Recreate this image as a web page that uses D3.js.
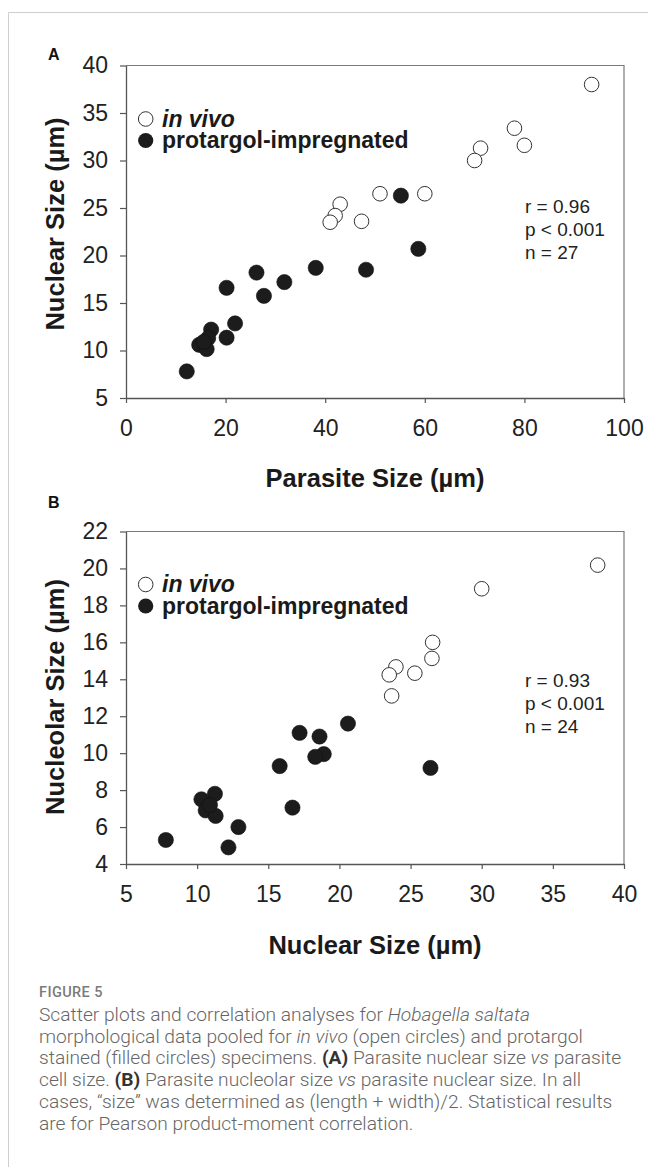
<!DOCTYPE html>
<html>
<head>
<meta charset="utf-8">
<script src="https://cdn.jsdelivr.net/npm/d3@7"></script>
<style>
  body { margin: 0; background: #fff; }
  svg { display: block; }
</style>
</head>
<body>
<svg id="fig" width="648" height="1167"></svg>
<script>
// Panel A: nuclear size vs parasite size
var inVivoA_x = [93.5, 78, 80, 71.2, 70, 51, 60, 43, 42, 41, 47.3];
var inVivoA_y = [38.0, 33.4, 31.6, 31.3, 30.0, 26.5, 26.5, 25.4, 24.2, 23.5, 23.6];
var protA_x = [55.2, 58.7, 48.2, 38.1, 26.2, 31.8, 20.2, 27.7, 21.9, 17.1, 16.5, 20.2, 14.7, 16.2, 15.6, 12.2];
var protA_y = [26.3, 20.7, 18.5, 18.7, 18.2, 17.2, 16.6, 15.75, 12.85, 12.2, 11.3, 11.35, 10.6, 10.15, 10.9, 7.8];
var ticksA_x = [0, 20, 40, 60, 80, 100];
var ticksA_y = [5, 10, 15, 20, 25, 30, 35, 40];
var statsA = ["r = 0.96", "p < 0.001", "n = 27"];

// Panel B: nucleolar size vs nuclear size
var inVivoB_x = [38.15, 30.0, 26.55, 26.5, 23.97, 23.5, 25.3, 23.67];
var inVivoB_y = [20.18, 18.9, 16.0, 15.13, 14.67, 14.24, 14.33, 13.1];
var protB_x = [26.4, 20.6, 17.2, 18.6, 18.9, 18.3, 15.8, 16.7, 11.25, 10.3, 10.6, 11.3, 12.9, 7.8, 12.2, 10.9];
var protB_y = [9.2, 11.6, 11.1, 10.9, 9.95, 9.8, 9.3, 7.05, 7.8, 7.5, 6.9, 6.6, 6.0, 5.3, 4.9, 7.2];
var ticksB_x = [5, 10, 15, 20, 25, 30, 35, 40];
var ticksB_y = [4, 6, 8, 10, 12, 14, 16, 18, 20, 22];
var statsB = ["r = 0.93", "p < 0.001", "n = 24"];

var legendLabels = ["in vivo", "protargol-impregnated"];

var captionLines = [
  [["Scatter plots and correlation analyses for ", ""], ["Hobagella saltata", "i"]],
  [["morphological data pooled for ", ""], ["in vivo", "i"], [" (open circles) and protargol", ""]],
  [["stained (filled circles) specimens. ", ""], ["(A)", "b"], [" Parasite nuclear size ", ""], ["vs", "i"], [" parasite", ""]],
  [["cell size. ", ""], ["(B)", "b"], [" Parasite nucleolar size ", ""], ["vs", "i"], [" parasite nuclear size. In all", ""]],
  [["cases, \u201Csize\u201D was determined as (length + width)/2. Statistical results", ""]],
  [["are for Pearson product-moment correlation.", ""]]
];

var FONT = "'Liberation Sans', Arial, Helvetica, sans-serif";
var svg = d3.select("#fig");

// page border
svg.append("path")
  .attr("d", "M8.5,1167 V12.5 H648")
  .attr("fill", "none")
  .attr("stroke", "#cfcfcf")
  .attr("stroke-width", 1);

function panel(o) {
  var x = d3.scaleLinear().domain(o.xDomain).range([126, 624]);
  var y = d3.scaleLinear().domain(o.yDomain).range([o.bottom, o.top]);
  var g = svg.append("g");

  // frame (top and right)
  g.append("path")
    .attr("d", "M126," + o.top + " H624 V" + o.bottom)
    .attr("fill", "none")
    .attr("stroke", "#7a7a7a")
    .attr("stroke-width", 1.2);

  var ax = g.append("g")
    .attr("transform", "translate(0," + o.bottom + ")")
    .call(d3.axisBottom(x).tickValues(o.xTicks).tickSize(5).tickSizeOuter(0).tickPadding(17));
  var ay = g.append("g")
    .attr("transform", "translate(126,0)")
    .call(d3.axisLeft(y).tickValues(o.yTicks).tickSize(6).tickSizeOuter(0).tickPadding(12));

  [ax, ay].forEach(function(a) {
    a.select(".domain").attr("stroke", "#555").attr("stroke-width", 1.3);
    a.selectAll(".tick line").attr("stroke", "#555").attr("stroke-width", 1.2);
    a.selectAll(".tick text")
      .attr("font-family", FONT)
      .attr("font-size", 23)
      .attr("fill", "#222");
  });

  // axis titles
  g.append("text")
    .attr("x", 375).attr("y", o.xTitleY)
    .attr("text-anchor", "middle")
    .attr("font-family", FONT).attr("font-size", 25.5).attr("font-weight", "bold")
    .attr("fill", "#1a1a1a")
    .text(o.xTitle);
  g.append("text")
    .attr("transform", "translate(64," + o.yTitleY + ") rotate(-90)")
    .attr("text-anchor", "middle")
    .attr("font-family", FONT).attr("font-size", 25.5).attr("font-weight", "bold")
    .attr("fill", "#1a1a1a")
    .text(o.yTitle);

  // panel letter
  g.append("text")
    .attr("x", 48).attr("y", o.letterY)
    .attr("font-family", FONT).attr("font-size", 16).attr("font-weight", "bold")
    .attr("fill", "#111")
    .text(o.letter);

  // points
  g.selectAll(".open")
    .data(d3.range(o.ox.length))
    .enter().append("circle")
    .attr("cx", function(i) { return x(o.ox[i]); })
    .attr("cy", function(i) { return y(o.oy[i]); })
    .attr("r", 7.3)
    .attr("fill", "#fff")
    .attr("stroke", "#333")
    .attr("stroke-width", 1);
  g.selectAll(".filled")
    .data(d3.range(o.fx.length))
    .enter().append("circle")
    .attr("cx", function(i) { return x(o.fx[i]); })
    .attr("cy", function(i) { return y(o.fy[i]); })
    .attr("r", 7.6)
    .attr("fill", "#1c1c1c")
    .attr("stroke", "#111")
    .attr("stroke-width", 0.6);

  // legend
  var lg = g.append("g").attr("transform", "translate(0," + o.legendY + ")");
  lg.append("circle").attr("cx", 145.7).attr("cy", 0).attr("r", 7.3)
    .attr("fill", "#fff").attr("stroke", "#333").attr("stroke-width", 1);
  lg.append("circle").attr("cx", 145.7).attr("cy", 21.5).attr("r", 7.6)
    .attr("fill", "#1c1c1c");
  lg.append("text").attr("x", 162).attr("y", 7.5)
    .attr("font-family", FONT).attr("font-size", 23).attr("font-weight", "bold")
    .attr("font-style", "italic").attr("fill", "#1a1a1a")
    .text(legendLabels[0]);
  lg.append("text").attr("x", 162).attr("y", 29)
    .attr("font-family", FONT).attr("font-size", 23).attr("font-weight", "bold")
    .attr("fill", "#1a1a1a")
    .text(legendLabels[1]);

  // stats
  g.selectAll(".stat")
    .data(o.stats)
    .enter().append("text")
    .attr("x", 525)
    .attr("y", function(d, i) { return o.statsY + i * 23; })
    .attr("font-family", FONT).attr("font-size", 19)
    .attr("fill", "#222")
    .text(function(d) { return d; });
}

panel({
  xDomain: [0, 100], yDomain: [5, 40], top: 65.5, bottom: 398,
  xTicks: ticksA_x, yTicks: ticksA_y,
  xTitle: "Parasite Size (\u00B5m)", yTitle: "Nuclear Size (\u00B5m)",
  xTitleY: 487, yTitleY: 224, letter: "A", letterY: 60,
  ox: inVivoA_x, oy: inVivoA_y, fx: protA_x, fy: protA_y,
  legendY: 119, stats: statsA, statsY: 213
});

panel({
  xDomain: [5, 40], yDomain: [4, 22], top: 531.5, bottom: 864,
  xTicks: ticksB_x, yTicks: ticksB_y,
  xTitle: "Nuclear Size (\u00B5m)", yTitle: "Nucleolar Size (\u00B5m)",
  xTitleY: 954, yTitleY: 697, letter: "B", letterY: 508,
  ox: inVivoB_x, oy: inVivoB_y, fx: protB_x, fy: protB_y,
  legendY: 584.5, stats: statsB, statsY: 687
});

// caption
var CAP = "Roboto, 'Open Sans', 'Noto Sans', sans-serif";
svg.append("text")
  .attr("x", 39).attr("y", 997)
  .attr("font-family", CAP).attr("font-size", 14.5).attr("font-weight", 500)
  .attr("fill", "#7b7b7b").attr("letter-spacing", 0.4)
  .text("FIGURE 5");

captionLines.forEach(function(line, i) {
  var t = svg.append("text")
    .attr("x", 39).attr("y", 1021 + i * 21.7)
    .attr("font-family", CAP).attr("font-size", 19.2).attr("font-weight", 300)
    .attr("fill", "#666");
  line.forEach(function(seg) {
    var s = t.append("tspan").text(seg[0]);
    if (seg[1] === "i") s.attr("font-style", "italic");
    if (seg[1] === "b") s.attr("font-weight", 700).attr("fill", "#333");
  });
});
</script>
</body>
</html>
